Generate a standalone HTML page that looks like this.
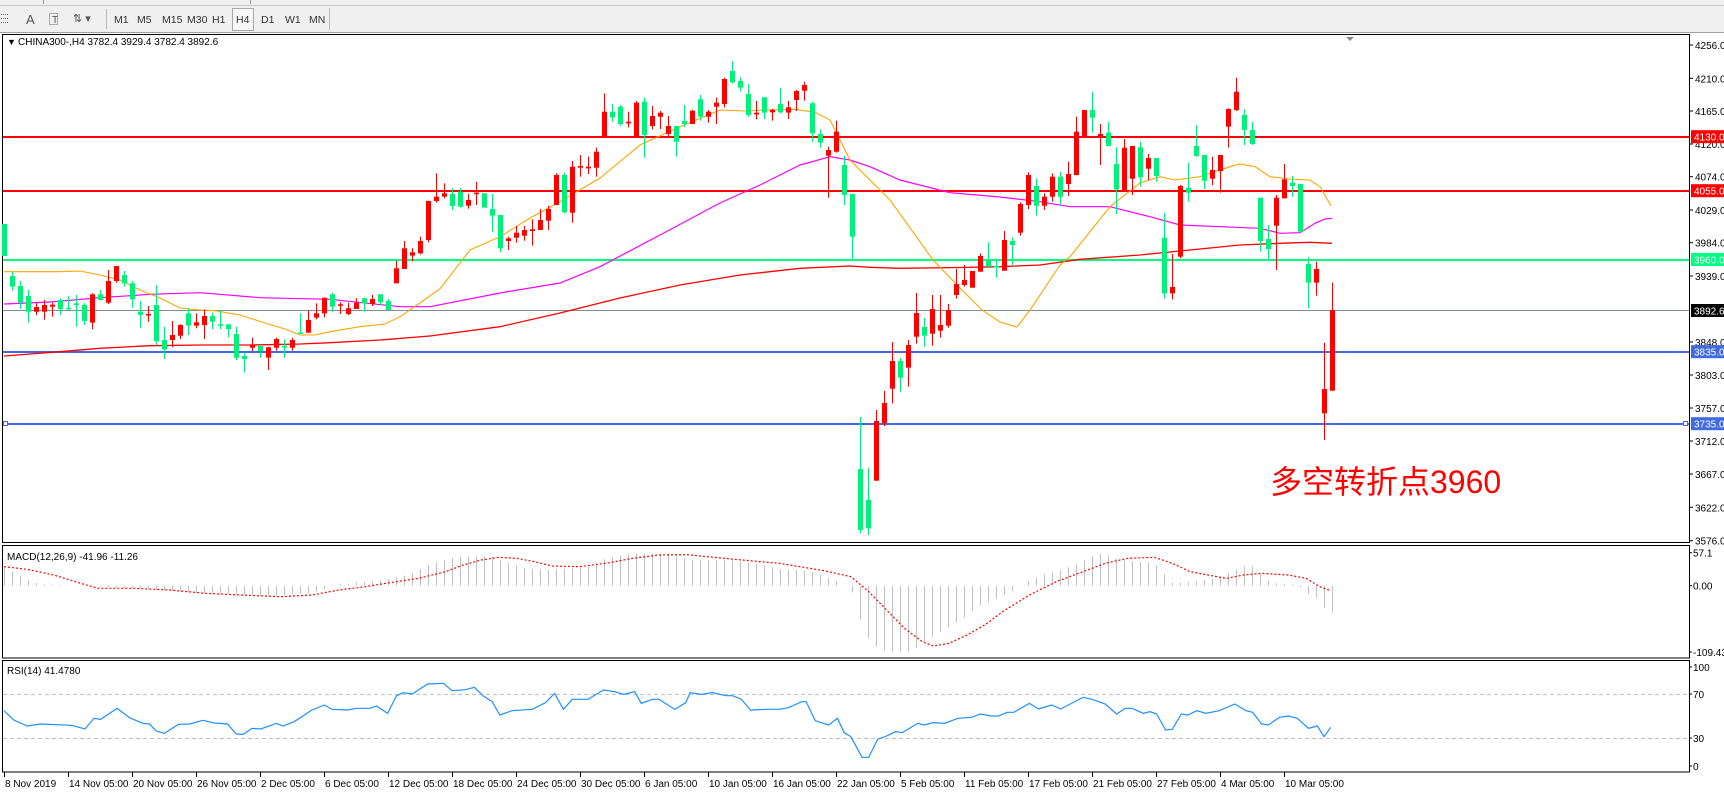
<!DOCTYPE html>
<html><head><meta charset="utf-8"><style>
html,body{margin:0;padding:0;background:#fff;width:1724px;height:793px;overflow:hidden}
svg{display:block}
text{font-family:"Liberation Sans","DejaVu Sans",sans-serif;font-size:10.5px}
</style></head><body>
<svg id="s" width="1724" height="793" xmlns="http://www.w3.org/2000/svg">
<rect x="0" y="0" width="1724" height="33" fill="#f0f0f0"/>
<line x1="0" y1="5.5" x2="1724" y2="5.5" stroke="#c8c8c8"/>
<line x1="0" y1="32.5" x2="1724" y2="32.5" stroke="#a0a0a0"/>
<line x1="43.5" y1="0" x2="43.5" y2="4" stroke="#999"/>
<line x1="250.5" y1="0" x2="250.5" y2="4" stroke="#999"/>
<g stroke="#666" stroke-width="1">
<line x1="1" y1="14.5" x2="9" y2="14.5" stroke-dasharray="1,1"/><line x1="1" y1="18.5" x2="9" y2="18.5" stroke-dasharray="1,1"/><line x1="1" y1="22.5" x2="9" y2="22.5" stroke-dasharray="1,1"/>
<rect x="49.5" y="13.5" width="8" height="11" fill="none" stroke-dasharray="1,1"/>
<line x1="106.5" y1="9" x2="106.5" y2="29" stroke="#bbb"/>
<line x1="329.5" y1="8" x2="329.5" y2="30" stroke="#bbb"/>
</g>
<text x="26" y="24" style="font-size:13px;fill:#555">A</text>
<text x="52" y="23" style="font-size:10px;fill:#555">T</text>
<text x="73" y="22" style="font-size:11px;fill:#555">⇅ ▾</text>
<rect x="232.5" y="8.5" width="21" height="22" fill="#f8f8f8" stroke="#aaa"/>
<g style="font-size:11px;fill:#333">
<text x="114" y="23">M1</text><text x="137" y="23">M5</text><text x="162" y="23">M15</text><text x="187" y="23">M30</text><text x="212" y="23">H1</text><text x="236" y="23">H4</text><text x="261" y="23">D1</text><text x="285" y="23">W1</text><text x="309" y="23">MN</text>
</g>
<g id="g"></g>
</svg>
<script>
const g=document.getElementById('g');
let out='';
const GR='#00f07a',RD='#ff0000';
out+='<rect x="2.5" y="34.5" width="1687" height="508" fill="none" stroke="#000"/>';
out+='<rect x="2.5" y="545.5" width="1687" height="112.5" fill="none" stroke="#000"/>';
out+='<rect x="2.5" y="660.5" width="1687" height="111.5" fill="none" stroke="#000"/>';
out+='<rect x="3" y="136" width="1686" height="2" fill="#ff0000"/>';
out+='<rect x="3" y="190" width="1686" height="2" fill="#ff0000"/>';
out+='<rect x="3" y="259" width="1686" height="2" fill="#00ff80"/>';
out+='<rect x="3" y="310" width="1686" height="1" fill="#7f8c99"/>';
out+='<rect x="3" y="351" width="1686" height="2" fill="#4169e1"/>';
out+='<rect x="3" y="423" width="1686" height="2" fill="#4169e1"/>';
out+='<rect x="3.5" y="421.5" width="4" height="4" fill="#fff" stroke="#4169e1"/>';
out+='<rect x="1683.5" y="421.5" width="4" height="4" fill="#fff" stroke="#4169e1"/>';
function pl(pts,col,w,extra){return '<polyline fill="none" stroke="'+col+'" stroke-width="'+w+'" '+(extra||'')+' points="'+pts.map(p=>p[0]+','+p[1]).join(' ')+'"/>';}
const red=[[4,356],[30,354],[60,351.7],[100,348.3],[150,345.7],[200,345],[250,345],[300,344],[330,342.7],[380,340],[430,336],[500,326.7],[560,313],[620,298],[680,285],[740,275],[800,268.3],[850,266],[870,267.3],[900,268.3],[960,267.5],[1000,266.7],[1040,265],[1080,259.3],[1140,255],[1200,249],[1240,245],[1280,243.3],[1310,242.3],[1332,243.3]];
const mag=[[4,304],[50,302],[100,297.7],[150,294.3],[200,292.7],[260,297.7],[330,299.3],[400,306.7],[430,306.7],[500,293],[560,283],[600,266.7],[660,235],[720,203],[760,185],[800,165],[830,156.7],[850,160],[870,166.7],[900,180],[950,192.7],[1000,197],[1040,201.7],[1070,206.7],[1110,206.7],[1150,216.7],[1180,225],[1220,226.7],[1260,228.3],[1280,233.3],[1300,232.7],[1315,223.3],[1325,219],[1332,218.3]];
const ora=[[4,271.7],[60,271.7],[80,271],[100,275],[120,280],[140,290],[160,298],[180,308],[200,310],[215,310.7],[240,315],[265,323],[285,329],[300,335],[315,335],[330,331.7],[360,326.7],[385,324],[400,316.7],[420,303],[440,288.7],[470,250],[500,236.7],[530,218],[560,201.7],[600,178],[640,145],[680,126.7],[720,110],[745,111],[765,110],[795,109.3],[815,112.3],[830,120],[850,160],[890,200],[933,260],[960,288],[982,310],[1000,322],[1017,327],[1030,310],[1060,265],[1070,256.7],[1110,206.7],[1140,183],[1160,176.7],[1175,180],[1200,176.7],[1230,166.7],[1240,164],[1255,166.7],[1270,176.7],[1290,179],[1310,180],[1320,186.7],[1331,206]];
out+=pl(red,'#ff0000',1.3)+pl(mag,'#ff00ff',1.2)+pl(ora,'#ffa500',1.1);
const sets=[
[60,0,[['g',492,588,492,588],['g',648,680,635,692],['g',678,728,663,747],['g',708,755,690,788],['r',741,755,727,765],['r',735,755,720,779],['r',734,740,728,770],['g',720,747,715,765],['g',743,747,708,750],['g',730,735,705,800],['g',735,783,730,795],['r',703,788,700,808],['g',703,720,690,720],['r',663,728,630,732],['r',618,663,618,668],['g',645,670,633,680],['g',670,718,663,743],['g',755,765,723,803],['r',762,765,738,785],['g',735,843,675,855],['g',840,868,800,897],['r',825,840,783,862],['r',795,827,793,837],['g',760,797,745,825],['r',787,797,760,805],['r',768,795,748,837],['g',768,785,758,808],['g',793,797,750,808],['g',793,807,793,832],['g',822,893,800,900],['g',888,897,880,938],['r',855,863,833,873],['g',858,873,855,893],['r',862,893,860,930],['r',837,863,833,872],['g',858,862,838,893],['r',840,863,833,872],['g',817,820,760,822],['r',780,818,752,818],['r',760,773,730,778],['r',713,760,713,772],['g',703,740,698,755],['r',733,737,727,762],['r',745,762,728,765],['r',728,747,715,747],['g',715,730,715,755],['r',717,732,705,738],['g',703,727,703,735],['g',723,750,717,750],['r',625,670,602,670],['r',565,627,543,627],['r',577,587,565,605],['r',543,580,530,583],['r',423,540,423,547],['r',410,423,340,428]]],
[50,55,[['r',430,440,400,445],['g',432,468,415,480],['g',425,470,415,473],['r',450,467,432,476],['r',428,432,395,465],['g',430,473,430,473],['g',477,497,432,545],['g',495,595,495,607],['r',565,573,560,600],['r',548,563,528,578],['r',540,557,528,572],['r',538,543,508,587],['r',510,540,477,540],['r',477,512,467,540],['r',375,465,370,465],['g',375,487,368,490],['r',350,488,333,518],['r',348,353,315,380],['r',350,355,320,372],['r',305,353,293,380],['r',185,262,130,262],['g',185,202,162,215],['g',170,222,165,228],['r',215,220,185,232],['r',158,262,153,262],['g',155,255,143,323],['r',198,228,168,238],['r',188,200,183,237],['r',228,252,198,258],['g',228,275,228,320],['g',213,222,165,232],['r',182,222,180,222],['g',148,200,135,212],['r',185,200,180,218],['r',158,170,143,222],['r',87,162,83,172],['g',63,97,33,100],['g',93,113,82,125],['g',132,195,102,200],['r',188,193,153,208],['g',142,188,142,207],['r',180,187,177,212],['g',162,187,113,190],['r',172,188,153,207],['r',123,150,120,183],['r',105,122,95,152],['g',160,250,155,275],['g',252,278,238,293],['r',300,317,290,443],['r',245,305,212,308],['g',345,435,318,465],['g',432,560,432,628]]],
[200,107,[['g',807,990,651,1000],['g',900,985,803,1005],['r',663,842,630,842],['r',609,670,573,678],['r',483,566,426,610],['g',483,533,474,575],['r',435,503,420,560],['r',339,410,279,431],['g',381,407,354,440],['r',327,401,285,437],['r',375,392,285,413],['r',330,377,312,383],['r',252,285,207,296]]],
[150,120,[['r',390,405,345,410],['r',363,413,363,413],['r',318,365,310,365],['g',330,350,277,350],['g',348,352,325,383],['r',270,362,243,362],['g',273,285,262,345],['r',162,248,157,257],['r',75,165,67,177],['g',108,167,85,197]]],
[60,130,[['r',410,437,400,450],['r',350,410,340,425],['g',350,410,335,435],['r',342,372,305,408],['r',215,345,170,345],['r',150,230,150,230],['g',150,173,95,218],['r',222,228,192,315],['g',218,258,185,258],['g',312,388,262,462],['r',263,392,237,392],['r',258,356,258,405],['g',262,352,245,380],['r',294,326,282,360],['g',294,348,294,365],['g',533,700,458,716],['r',681,700,582,718],['r',378,590,375,595],['g',383,398,308,425],['g',258,288,195,290],['g',285,362,285,387],['r',330,356,290,375],['r',285,333,285,398],['r',147,200,145,263],['r',95,150,53,153],['g',165,210,148,255],['g',210,252,185,255],['g',413,543,413,575],['g',537,567,495,597],['r',413,497,405,630],['r',358,415,312,415],['g',368,378,348,410],['g',372,515,372,515],['g',612,668,592,745],['r',627,668,605,707],['r',987,1060,848,1140],['r',750,992,668,992]]]
];
sets.forEach(([off,k0,list])=>{list.forEach((c,i)=>{const k=k0+i,X=4+8*k,col=c[0]=='r'?RD:GR;
 const bt=off+c[1]/3,bb=off+c[2]/3,wt=off+c[3]/3,wb=off+c[4]/3;
 out+='<rect x="'+X+'" y="'+wt.toFixed(1)+'" width="1" height="'+Math.max(1,wb-wt).toFixed(1)+'" fill="'+col+'"/>';
 out+='<rect x="'+(X-2)+'" y="'+bt.toFixed(1)+'" width="5" height="'+Math.max(1.5,bb-bt).toFixed(1)+'" fill="'+col+'"/>';});});
function interp(pts,x){if(x<=pts[0][0])return pts[0][1];for(let i=1;i<pts.length;i++){if(x<=pts[i][0]){const a=pts[i-1],b=pts[i];return a[1]+(b[1]-a[1])*(x-a[0])/(b[0]-a[0]);}}return pts[pts.length-1][1];}
const z9=(p)=>p.map(q=>[4+(q[0]-8)/2.247,540+q[1]/3]);
const z10=(p)=>p.map(q=>[708+(q[0]-40)/2.24,540+q[1]/3]);
const hist=z9([[8,80],[27,95],[45,108],[63,120],[81,130],[100,134],[160,136],[220,140],[300,145],[380,152],[450,160],[520,163],[600,168],[700,160],[730,145],[760,133],[800,128],[840,124],[880,115],[920,103],[960,75],[1000,58],[1030,50],[1100,48],[1130,65],[1180,85],[1230,90],[1280,85],[1330,78],[1360,55],[1400,45],[1440,40],[1500,42],[1540,55],[1560,58]]).concat(z10([[0,60],[100,62],[150,72],[200,87],[260,92],[300,108],[340,130],[365,160],[380,237],[400,300],[420,325],[440,335],[490,335],[510,320],[530,300],[560,275],[580,260],[600,245],[630,215],[650,195],[670,185],[690,175],[710,160],[720,155],[760,120],[780,110],[800,100],[830,90],[850,80],[870,70],[890,55],[910,42],[930,42],[950,55],[970,60],[1000,65],[1030,68],[1050,80],[1065,108],[1080,130],[1120,128],[1150,120],[1180,115],[1210,95],[1240,80],[1260,80],[1280,105],[1300,128],[1330,132],[1360,135],[1380,160],[1400,170],[1420,205],[1438,218]]).filter(p=>p[0]>690));
hist.sort((a,b)=>a[0]-b[0]);
for(let k=0;k<=166;k++){const X=4+8*k;const y=interp(hist,X);const z=585.7;
 const t=Math.min(y,z),h=Math.abs(y-z);if(h>0.5)out+='<rect x="'+X+'" y="'+t.toFixed(1)+'" width="1" height="'+h.toFixed(1)+'" fill="#c0c0c0"/>';}
const sig=z9([[8,80],[60,88],[120,105],[180,130],[220,145],[300,145],[380,150],[460,160],[540,165],[630,170],[700,165],[760,150],[820,140],[880,127],[940,115],[1000,95],[1040,75],[1080,60],[1120,52],[1160,55],[1200,65],[1240,78],[1300,80],[1360,70],[1420,55],[1480,45],[1540,44]]).concat(z10([[0,45],[100,58],[200,70],[300,92],[360,110],[400,155],[440,210],[480,265],[520,305],[545,318],[580,310],[620,285],[660,255],[700,215],[760,165],[820,125],[880,95],[930,70],[980,55],[1040,52],[1080,70],[1120,95],[1160,105],[1200,115],[1240,105],[1280,100],[1340,105],[1380,115],[1410,140],[1435,152]]).filter(p=>p[0]>690));
out+=pl(sig,'#ff0000',1.2,'stroke-dasharray="2,2"');
out+='<line x1="3" y1="694.5" x2="1689" y2="694.5" stroke="#c0c0c0" stroke-dasharray="4,3"/>';
out+='<line x1="3" y1="738.5" x2="1689" y2="738.5" stroke="#c0c0c0" stroke-dasharray="4,3"/>';
const rsi=z9([[8,512],[30,540],[60,558],[90,552],[160,556],[190,567],[210,535],[225,538],[262,505],[290,533],[320,550],[335,552],[350,573],[368,580],[400,553],[425,552],[455,541],[480,549],[510,552],[530,582],[545,583],[565,565],[585,567],[620,550],[635,558],[660,545],[700,510],[728,495],[745,508],[780,510],[800,505],[830,505],[845,498],[870,520],[890,467],[905,458],[925,462],[960,432],[995,430],[1015,452],[1045,449],[1065,442],[1085,468],[1105,485],[1122,525],[1150,512],[1195,508],[1225,488],[1245,460],[1265,508],[1285,478],[1320,478],[1355,450],[1380,455],[1400,463],[1425,455],[1440,490],[1465,478],[1480,478],[1515,508],[1540,488]]).concat(z10([[0,458],[25,463],[50,458],[80,467],[95,467],[115,478],[135,510],[175,508],[200,508],[220,503],[250,485],[260,485],[280,542],[310,555],[330,535],[345,578],[360,590],[385,652],[400,652],[420,598],[440,588],[460,575],[475,578],[510,550],[525,555],[545,548],[570,550],[600,535],[630,532],[650,522],[675,528],[690,528],[710,517],[725,517],[760,490],[780,507],[810,495],[830,507],[880,472],[900,478],[930,492],[955,522],[975,505],[990,505],[1015,520],[1030,515],[1045,522],[1065,570],[1080,568],[1100,522],[1115,525],[1135,512],[1155,520],[1185,512],[1220,492],[1245,512],[1260,517],[1280,552],[1295,555],[1320,532],[1340,528],[1360,535],[1385,565],[1405,558],[1420,590],[1435,562]]).filter(p=>p[0]>690));
out+=pl(rsi,'#1e90ff',1.2);
const T=(x,y,t,st)=>'<text x="'+x+'" y="'+y+'" style="'+(st||'fill:#000')+'">'+t+'</text>';
const pr=[['4256.0',45],['4210.0',78.3],['4165.0',111],['4120.0',144],['4074.0',176.7],['4029.0',210],['3984.0',242.7],['3939.0',276],['3848.0',342],['3803.0',375],['3757.0',408],['3712.0',441],['3667.0',474],['3622.0',507.3],['3576.0',540.7]];
pr.forEach(([t,y])=>{out+='<line x1="1690" y1="'+y+'" x2="1693" y2="'+y+'" stroke="#000"/>'+T(1695,y+4,t,'fill:#000;font-size:10px');});
const bx=[['4130.0',136.7,'#ff0000'],['4055.0',190.7,'#ff0000'],['3960.0',259.5,'#00ff80'],['3892.6',310.5,'#000'],['3835.0',351.7,'#4169e1'],['3735.0',423.7,'#4169e1']];
bx.forEach(([t,y,b])=>{out+='<rect x="1691" y="'+(y-6.5)+'" width="33" height="13" fill="'+b+'"/>'+T(1694,y+4,t,'fill:#fff;font-size:10px');});
[['57.1',552.7],['0.00',585.7],['-109.43',652],['100',667],['70',694],['30',738],['0',766]].forEach(([t,y])=>{out+='<line x1="1690" y1="'+y+'" x2="1692" y2="'+y+'" stroke="#000"/>'+T(1693,y+4,t,'fill:#000;font-size:10px');});
const dl=['8 Nov 2019','14 Nov 05:00','20 Nov 05:00','26 Nov 05:00','2 Dec 05:00','6 Dec 05:00','12 Dec 05:00','18 Dec 05:00','24 Dec 05:00','30 Dec 05:00','6 Jan 05:00','10 Jan 05:00','16 Jan 05:00','22 Jan 05:00','5 Feb 05:00','11 Feb 05:00','17 Feb 05:00','21 Feb 05:00','27 Feb 05:00','4 Mar 05:00','10 Mar 05:00'];
dl.forEach((t,j)=>{const x=4+64*j;out+='<line x1="'+(x+.5)+'" y1="772" x2="'+(x+.5)+'" y2="777" stroke="#000"/>'+T(x+1,787,t,'fill:#000;font-size:10px');});
out+=T(7,45,'▼','fill:#000;font-size:9px')+T(18,45,'CHINA300-,H4  3782.4 3929.4 3782.4 3892.6','fill:#000;font-size:10px');
out+=T(7,560,'MACD(12,26,9) -41.96 -11.26','fill:#000;font-size:10px');
out+=T(7,674,'RSI(14) 41.4780','fill:#000;font-size:10px');
out+='<polygon points="1346,37 1354,37 1350,41" fill="#888"/>';
out+='<text x="1270" y="493" style="font-size:32px;font-family:\'Liberation Sans\',\'Noto Sans CJK SC\',sans-serif;fill:#ff0000">多空转折点3960</text>';
g.innerHTML=out;
</script>
</body></html>
